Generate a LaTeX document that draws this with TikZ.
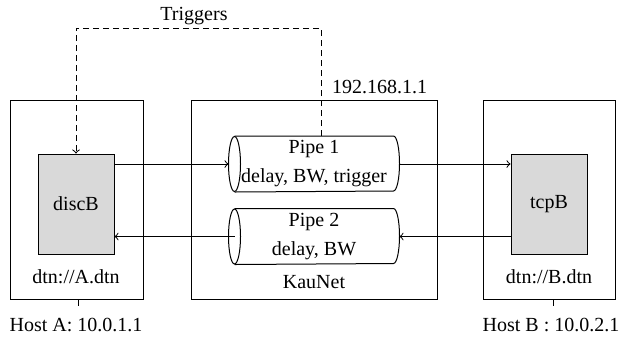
\documentclass[tikz,border=0pt]{standalone}
\usepackage{fontspec}
\setmainfont{Liberation Serif}
\usetikzlibrary{positioning}

\begin{document}
\begin{tikzpicture}[x=0.5pt,y=-0.5pt,line width=0.5pt,font=\fontsize{10}{14.5}\selectfont,
    hostbox/.style={draw, minimum height=99.5pt, inner sep=0pt},
    appbox/.style={draw, fill=gray!30, minimum width=38pt, minimum height=50pt, inner sep=0pt},
    pipebox/.style={minimum width=85pt, minimum height=27.5pt, inner sep=0pt, align=center},
    trigline/.style={dash pattern=on 3pt off 2pt}]
            \useasboundingbox (0,0) rectangle (619,339);

            % hosts
            \node[hostbox, minimum width=66.5pt] (hostA) at (76.5,199.5) {};
            \node[hostbox, minimum width=123pt] (kaunet) at (314,199.5) {};
            \node[hostbox, minimum width=66pt] (hostB) at (549,199.5) {};

            \node[appbox] (discB) at (76,204) {discB};
            \node[appbox] (tcpB) at (549,204) {tcpB};

            % pipes
            \node[pipebox] (pipe1) at (314,164) {Pipe 1\\delay, BW, trigger};
            \node[pipebox] (pipe2) at (314,236.5) {Pipe 2\\delay, BW};
            \foreach \p in {pipe1,pipe2} {
                \draw ([xshift=3pt]\p.north west) -- ([xshift=-3pt]\p.north east)
                    arc[start angle=90, end angle=-90, x radius=3pt, y radius=13.75pt]
                    -- ([xshift=3pt]\p.south west);
                \draw ([xshift=3pt]\p.west) ellipse[x radius=3pt, y radius=13.75pt];
            }

            % labels
            \node (dtnA) at (76,277) {dtn://A.dtn};
            \node (dtnB) at (549,277) {dtn://B.dtn};
            \node (kaunetlabel) at (314,282) {KauNet};
            \node (hostAlabel) at (76,325) {Host A: 10.0.1.1};
            \node (hostBlabel) at (551,325) {Host B : 10.0.2.1};
            \node (triggers) at (194,16) {Triggers};
            \node[anchor=west] (kaunetip) at (325,87) {192.168.1.1};
            \coordinate (trigtop) at (321,28);

            % connectors
            \draw[->] (discB.east |- pipe1.west) -- (pipe1.west);
            \draw[->] (pipe1.east) -- (tcpB.west |- pipe1.east);
            \draw[->] (tcpB.west |- pipe2.east) -- (pipe2.east);
            \draw[->] ([xshift=3pt]pipe2.west) -- (discB.east |- pipe2.west);
            \draw[trigline,->] (trigtop |- pipe1.north) -- (trigtop) -| (discB.north);

            \draw ([xshift=1pt]hostA.south) -- ++(0,6);
            \draw ([xshift=2pt]hostB.south) -- ++(0,6);
        \end{tikzpicture}
\end{document}
